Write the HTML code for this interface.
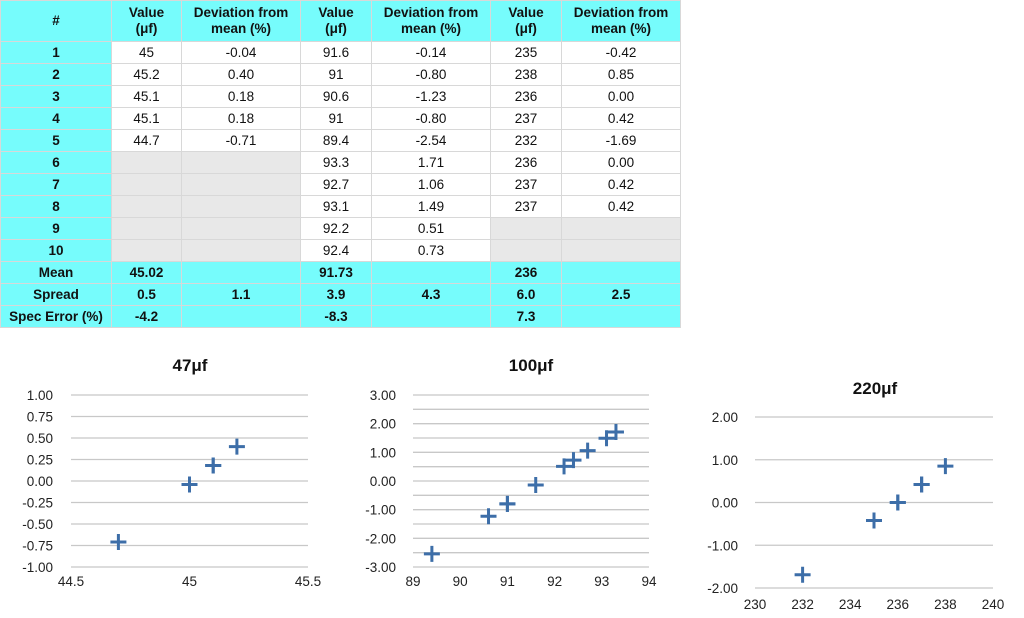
<!DOCTYPE html>
<html><head><meta charset="utf-8"><style>
body{margin:0;width:1024px;height:618px;background:#fff;font-family:"Liberation Sans",Arial,sans-serif;position:relative;overflow:hidden}
table{position:absolute;left:0;top:0;border-collapse:collapse;table-layout:fixed;font-size:13.5px;color:#111}
td{border:1px solid #d8d8d8;text-align:center;padding:0;height:21px;line-height:16px;background:#fff}
td.c{background:#76fcfc;font-weight:bold}
td.g{background:#e8e8e8}
tr.h td{height:40px}
svg{position:absolute;left:0;top:0}
</style></head><body>
<table>
<colgroup><col style="width:111px"><col style="width:70px"><col style="width:119px"><col style="width:71px"><col style="width:119px"><col style="width:71px"><col style="width:119px"></colgroup>
<tr class="h"><td class="c">#</td><td class="c">Value<br>(μf)</td><td class="c">Deviation from<br>mean (%)</td><td class="c">Value<br>(μf)</td><td class="c">Deviation from<br>mean (%)</td><td class="c">Value<br>(μf)</td><td class="c">Deviation from<br>mean (%)</td></tr>
<tr><td class="c">1</td><td>45</td><td>-0.04</td><td>91.6</td><td>-0.14</td><td>235</td><td>-0.42</td></tr>
<tr><td class="c">2</td><td>45.2</td><td>0.40</td><td>91</td><td>-0.80</td><td>238</td><td>0.85</td></tr>
<tr><td class="c">3</td><td>45.1</td><td>0.18</td><td>90.6</td><td>-1.23</td><td>236</td><td>0.00</td></tr>
<tr><td class="c">4</td><td>45.1</td><td>0.18</td><td>91</td><td>-0.80</td><td>237</td><td>0.42</td></tr>
<tr><td class="c">5</td><td>44.7</td><td>-0.71</td><td>89.4</td><td>-2.54</td><td>232</td><td>-1.69</td></tr>
<tr><td class="c">6</td><td class="g"></td><td class="g"></td><td>93.3</td><td>1.71</td><td>236</td><td>0.00</td></tr>
<tr><td class="c">7</td><td class="g"></td><td class="g"></td><td>92.7</td><td>1.06</td><td>237</td><td>0.42</td></tr>
<tr><td class="c">8</td><td class="g"></td><td class="g"></td><td>93.1</td><td>1.49</td><td>237</td><td>0.42</td></tr>
<tr><td class="c">9</td><td class="g"></td><td class="g"></td><td>92.2</td><td>0.51</td><td class="g"></td><td class="g"></td></tr>
<tr><td class="c">10</td><td class="g"></td><td class="g"></td><td>92.4</td><td>0.73</td><td class="g"></td><td class="g"></td></tr>
<tr><td class="c">Mean</td><td class="c">45.02</td><td class="c"></td><td class="c">91.73</td><td class="c"></td><td class="c">236</td><td class="c"></td></tr>
<tr><td class="c">Spread</td><td class="c">0.5</td><td class="c">1.1</td><td class="c">3.9</td><td class="c">4.3</td><td class="c">6.0</td><td class="c">2.5</td></tr>
<tr><td class="c">Spec Error (%)</td><td class="c">-4.2</td><td class="c"></td><td class="c">-8.3</td><td class="c"></td><td class="c">7.3</td><td class="c"></td></tr>
</table>
<svg id="charts" width="1024" height="618"></svg>
<script>
const x47=[45,45.2,45.1,45.1,44.7];
const y47=[-0.04,0.40,0.18,0.18,-0.71];
const x100=[91.6,91,90.6,91,89.4,93.3,92.7,93.1,92.2,92.4];
const y100=[-0.14,-0.80,-1.23,-0.80,-2.54,1.71,1.06,1.49,0.51,0.73];
const x220=[235,238,236,237,232,236,237,237];
const y220=[-0.42,0.85,0.00,0.42,-1.69,0.00,0.42,0.42];
const xt47=[44.5,45,45.5], yt47=[-1,-0.75,-0.5,-0.25,0,0.25,0.5,0.75,1];
const xt100=[89,90,91,92,93,94], yt100=[-3,-2.5,-2,-1.5,-1,-0.5,0,0.5,1,1.5,2,2.5,3], yl100=[-3,-2,-1,0,1,2,3];
const xt220=[230,232,234,236,238,240], yt220=[-2,-1,0,1,2];
const svg=document.getElementById('charts');
const NS='http://www.w3.org/2000/svg';
function mk(t,a){const e=document.createElementNS(NS,t);for(const k in a)e.setAttribute(k,a[k]);svg.appendChild(e);return e;}
function chart(name,title,tx,ty,xs,ys,xt,yt,yl,x0,x1,y0,y1,xmin,xmax,ymin,ymax,xly,lblR){
 const sx=v=>x0+(v-xmin)/(xmax-xmin)*(x1-x0);
 const sy=v=>y1-(v-ymin)/(ymax-ymin)*(y1-y0);
 const t=mk('text',{x:tx,y:ty,'text-anchor':'middle','font-size':'17','font-weight':'bold',fill:'#111'});t.textContent=title;
 
 
 yt.forEach(v=>{const l=mk('line',{x1:x0,x2:x1,y1:sy(v),y2:sy(v),stroke:'#c8c8c8','stroke-width':1.3});
  
  });
 yl.forEach(v=>{const e=mk('text',{x:lblR,y:sy(v)+5,'text-anchor':'end','font-size':'13.5',fill:'#222'});e.textContent=v.toFixed(2);
  
  });
 xt.forEach(v=>{const e=mk('text',{x:sx(v),y:xly,'text-anchor':'middle','font-size':'13.5',fill:'#222'});e.textContent=String(v);
  
  });
 xs.forEach((v,i)=>{const cx=sx(v),cy=sy(ys[i]);
  const p=mk('path',{d:`M${cx-8} ${cy}H${cx+8}M${cx} ${cy-8}V${cy+8}`,stroke:'#3d6ea8','stroke-width':3});
  
  });
}
chart('chart-47uf','47μf',190,371,x47,y47,xt47,yt47,yt47,71,308,395,567,44.5,45.5,-1,1,586,53);
chart('chart-100uf','100μf',531,371,x100,y100,xt100,yt100,yl100,413,649,395,567,89,94,-3,3,586,396);
chart('chart-220uf','220μf',875,394,x220,y220,xt220,yt220,yt220,755,993,417,588,230,240,-2,2,609,738);
</script>
</body></html>
